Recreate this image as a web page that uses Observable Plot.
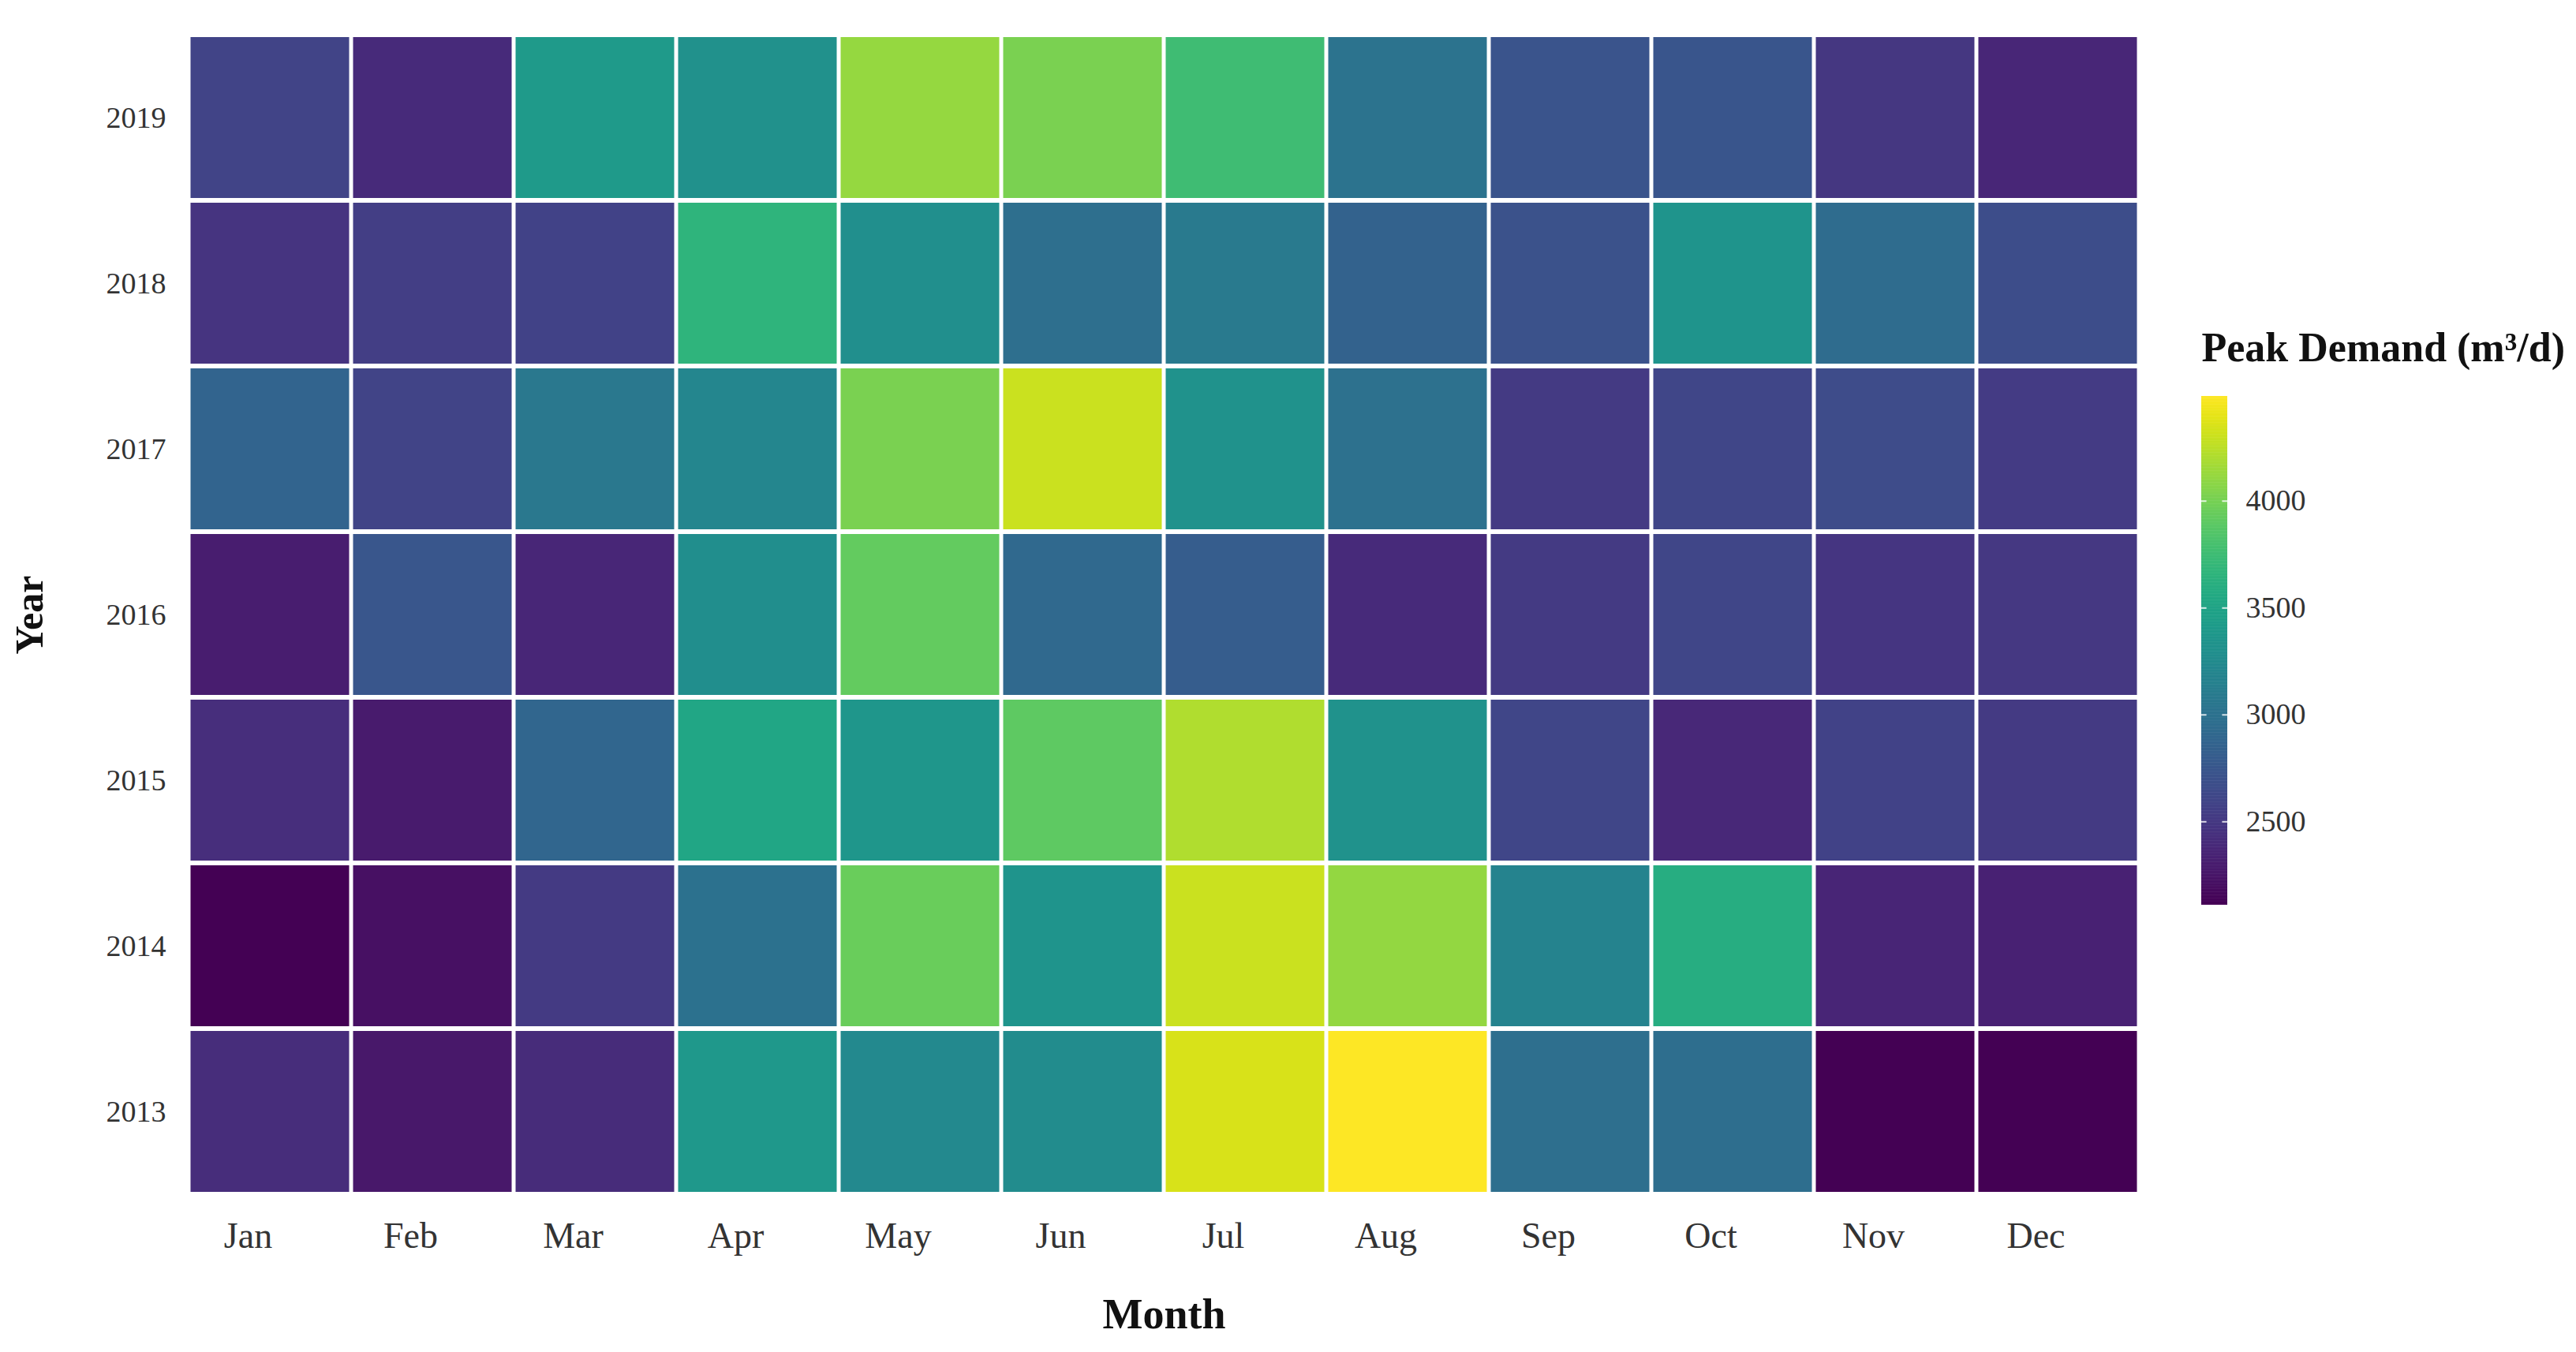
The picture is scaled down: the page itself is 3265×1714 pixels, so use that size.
<!DOCTYPE html>
<html><head><meta charset="utf-8">
<script src="https://cdn.jsdelivr.net/npm/d3@7"></script>
<script src="https://cdn.jsdelivr.net/npm/@observablehq/plot@0.6"></script>
<style>
html,body{margin:0;padding:0;background:#fff;width:3265px;height:1714px;overflow:hidden}
#chart{position:absolute;left:0;top:0}
#legend{position:absolute;left:2760px;top:380px}
svg{font-family:"Liberation Serif",serif}
</style></head><body>
<div id="chart"></div><div id="legend"></div>
<script>
const months = ["Jan","Feb","Mar","Apr","May","Jun","Jul","Aug","Sep","Oct","Nov","Dec"];
const years = ["2019","2018","2017","2016","2015","2014","2013"];
const y2019 = [2590,2395,3395,3300,4110,4010,3750,3015,2730,2740,2490,2370];
const y2018 = [2470,2540,2580,3655,3290,2970,3085,2850,2710,3345,2945,2665];
const y2017 = [2870,2590,3060,3205,4015,4300,3320,2990,2515,2605,2655,2520];
const y2016 = [2300,2750,2370,3280,3920,2910,2800,2395,2510,2610,2475,2495];
const y2015 = [2420,2280,2890,3515,3365,3895,4205,3320,2605,2375,2580,2515];
const y2014 = [2110,2205,2515,3000,3950,3345,4295,4105,3175,3590,2360,2325];
const y2013 = [2415,2260,2405,3380,3230,3255,4345,4490,2970,2965,2110,2115];
const legendTicks = [2500,3000,3500,4000];
const colorDomain = [2110,4490];

const series = [y2019,y2018,y2017,y2016,y2015,y2014,y2013];
const table = [];
years.forEach((yr,i)=>months.forEach((m,j)=>table.push({year:yr, month:m, value:series[i][j]})));

const main = Plot.plot({
  width: 2760, height: 1714,
  marginLeft: 236, marginRight: 46, marginTop: 43, marginBottom: 199,
  style: {fontFamily: "Liberation Serif", background: "#fff"},
  x: {type:"band", domain: months, padding: 0, label: null},
  y: {type:"band", domain: years, padding: 0, label: null},
  color: {type:"linear", scheme:"viridis", domain: colorDomain},
  marks: [
    Plot.cell(table, {x:"month", y:"year", fill:"value", insetLeft:2.5, insetRight:2.5, insetTop:3, insetBottom:3}),
    Plot.axisX({tickSize:0, tickPadding:34, fontSize:46, dx:-28, fill:"#333", label:null}),
    Plot.axisY({tickSize:0, tickPadding:26, fontSize:38, fill:"#333", label:null}),
    Plot.text(["Month"], {frameAnchor:"bottom", dy:151, lineAnchor:"middle", textAnchor:"middle", fontSize:54, fontWeight:"bold", fill:"#111"}),
    Plot.text(["Year"], {frameAnchor:"left", dx:-199, rotate:-90, lineAnchor:"middle", textAnchor:"middle", fontSize:50, fontWeight:"bold", fill:"#111"})
  ]
});
document.getElementById("chart").appendChild(main);

const legendVals = d3.range(colorDomain[0], colorDomain[1], 5);
const leg = Plot.plot({
  width: 505, height: 800,
  marginTop: 122, marginBottom: 33, marginLeft: 30, marginRight: 442,
  style: {fontFamily: "Liberation Serif", background: "transparent", overflow: "visible"},
  x: {domain:[0,1], axis:null},
  y: {domain: colorDomain, axis:null},
  color: {type:"linear", scheme:"viridis", domain: colorDomain},
  marks: [
    Plot.rect(legendVals, {x1:0, x2:1, y1:d=>d, y2:d=>Math.min(d+7, colorDomain[1]), fill:d=>d}),
    Plot.ruleY(legendTicks, {x1:0, x2:0.2, stroke:"white", strokeWidth:2, strokeOpacity:0.8}),
    Plot.ruleY(legendTicks, {x1:0.8, x2:1, stroke:"white", strokeWidth:2, strokeOpacity:0.8}),
    Plot.axisY(legendTicks, {anchor:"right", tickSize:0, tickPadding:23, fontSize:38, fill:"#333", label:null, tickFormat:d3.format("d")}),
    Plot.text(["Peak Demand (m³/d)"], {frameAnchor:"top-left", dy:-61, textAnchor:"start", lineAnchor:"middle", fontSize:52, fontWeight:"bold", fill:"#111"})
  ]
});
document.getElementById("legend").appendChild(leg);
</script>
</body></html>
